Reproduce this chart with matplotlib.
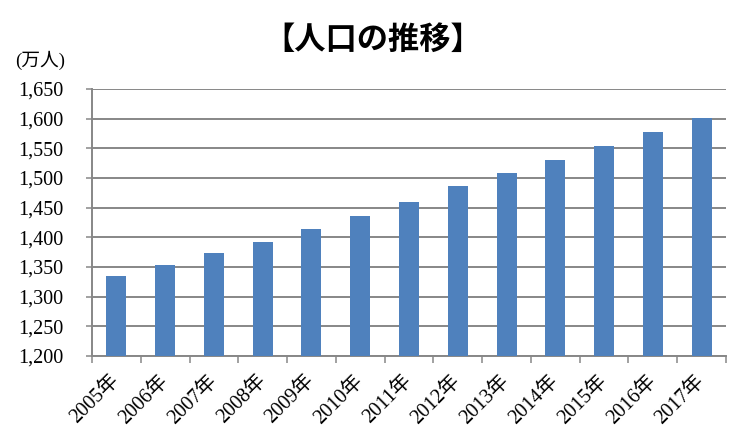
import numpy as np
import matplotlib
matplotlib.use('Agg')
import matplotlib.pyplot as plt

years = ['2005年', '2006年', '2007年', '2008年', '2009年', '2010年', '2011年',
         '2012年', '2013年', '2014年', '2015年', '2016年', '2017年']
population = [1335, 1353, 1374, 1392, 1414, 1436, 1460,
              1487, 1508, 1530, 1554, 1578, 1601]
yticks = np.arange(1200, 1651, 50)

fonts = ['Liberation Serif', 'Noto Sans CJK JP']
gray = '#878787'

fig = plt.figure(figsize=(7.48, 4.46), dpi=100)
ax = fig.add_axes([92 / 748, 1 - 356 / 446, (726 - 92) / 748, (356 - 89) / 446])

x = np.arange(len(years))
ax.bar(x, population, width=0.41, color='#4F81BD', zorder=3)

ax.set_xlim(-0.5, len(years) - 0.5)
ax.set_ylim(1200, 1650)
ax.set_yticks(yticks)
ax.set_yticklabels(['{:,}'.format(v) for v in yticks], family=fonts, fontsize=14.5)
ax.grid(axis='y', color=gray, linewidth=1.4, zorder=1)

ax.set_xticks(x)
ax.set_xticklabels(years, rotation=45, ha='right', va='center', rotation_mode='anchor',
                   family=fonts, fontsize=14.5)
ax.set_xticks(np.arange(-0.5, len(years), 1), minor=True)
ax.tick_params(axis='x', which='major', length=0, pad=16)
ax.tick_params(axis='x', which='minor', length=5, width=1.1, color=gray)
ax.tick_params(axis='y', length=4.3, width=1.1, color=gray, pad=16)

for s in ['top', 'right']:
    ax.spines[s].set_visible(False)
for s in ['left', 'bottom']:
    ax.spines[s].set_color(gray)
    ax.spines[s].set_linewidth(1.4)

fig.text(373 / 748, 1 - 40 / 446, '【人口の推移】', ha='center', va='center',
         fontsize=22.5, fontweight='bold', family=['Noto Sans CJK JP'])
fig.text(15 / 748, 1 - 60 / 446, '(万人)', ha='left', va='center', fontsize=13.5,
         family=fonts)

fig.savefig('out.png', dpi=100)
